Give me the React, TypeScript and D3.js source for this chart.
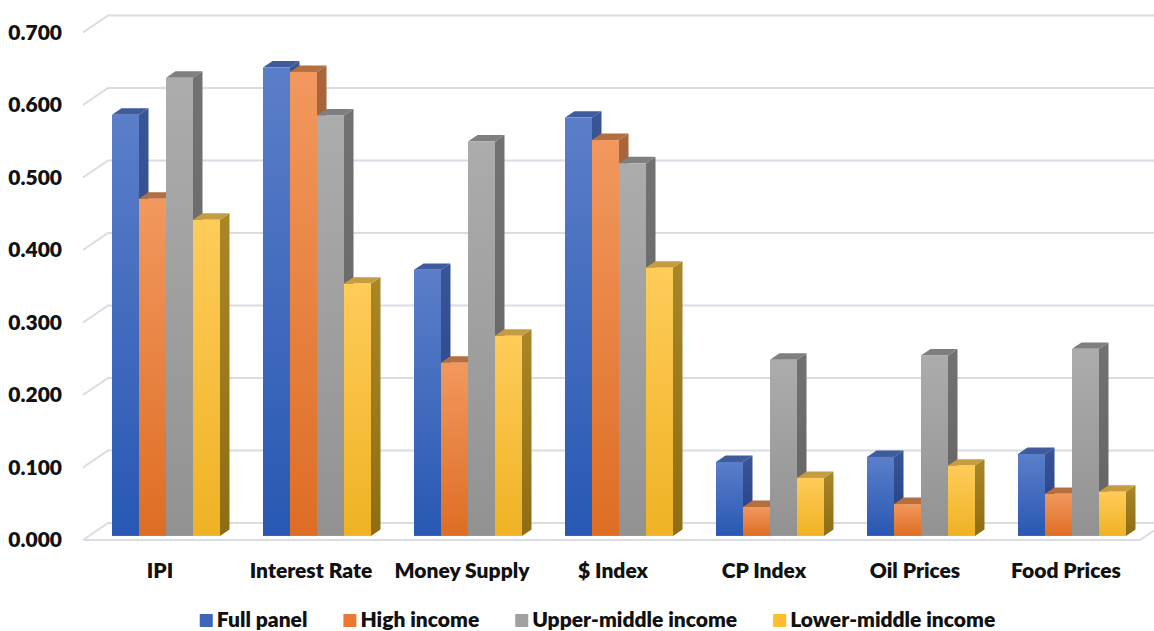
import React, { useEffect, useRef } from "react";
import * as d3 from "d3";

const W = 1154;
const H = 631;

const categories = ["IPI", "Interest Rate", "Money Supply", "$ Index", "CP Index", "Oil Prices", "Food Prices"];
const seriesNames = ["Full panel", "High income", "Upper-middle income", "Lower-middle income"];

const fullPanel = [0.581, 0.646, 0.367, 0.577, 0.102, 0.109, 0.113];
const highIncome = [0.465, 0.640, 0.239, 0.546, 0.040, 0.044, 0.058];
const upperMiddle = [0.632, 0.580, 0.544, 0.514, 0.243, 0.249, 0.258];
const lowerMiddle = [0.436, 0.348, 0.276, 0.370, 0.080, 0.097, 0.061];

const yTicks = [0, 0.1, 0.2, 0.3, 0.4, 0.5, 0.6, 0.7];

const seriesValues = [fullPanel, highIncome, upperMiddle, lowerMiddle];

// face shading per series: front gradient, side gradient, top face, legend swatch
const palette = [
  { front: ["#5b7ec9", "#2858b3"], side: ["#3a5596", "#213f82"], top: "#3f5b9d", swatch: "#3b66bb" },
  { front: ["#f2985e", "#de6d24"], side: ["#a9653b", "#985224"], top: "#b36f40", swatch: "#ea7a32" },
  { front: ["#acacac", "#929292"], side: ["#727272", "#626262"], top: "#7f7f7f", swatch: "#a0a0a0" },
  { front: ["#ffcc59", "#efb224"], side: ["#a98727", "#8e6d13"], top: "#c69c43", swatch: "#fcbe2c" },
];

const FONT = "Lato, 'Open Sans', sans-serif";
const FONT_SIZE = 21;
const FONT_WEIGHT = 800;

export default function App() {
  const ref = useRef<SVGSVGElement>(null);

  useEffect(() => {
    const svg = d3.select(ref.current);
    svg.selectAll("*").remove();

    // oblique projection: z = 0 at the front edge of the floor, z = 1 at the back wall
    const depthX = 25;
    const depthY = -17;
    const barZ = 0.24;
    const barDepth = 0.38;

    const x = d3
      .scaleBand<string>()
      .domain(categories)
      .range([84.5, 1141.5])
      .paddingInner(43 / 151)
      .paddingOuter(21.5 / 151);
    const xs = d3.scaleBand<string>().domain(seriesNames).range([0, x.bandwidth()]).padding(0);
    const y = d3.scaleLinear().domain([0, 0.7]).range([540, 540 - 0.7 * 725]);

    const proj = (px: number, v: number, z: number): [number, number] => [px + depthX * z, y(v) + depthY * z];

    const defs = svg.append("defs");
    palette.forEach((p, i) => {
      const gf = defs.append("linearGradient").attr("id", `front${i}`).attr("x1", 0).attr("y1", 0).attr("x2", 0).attr("y2", 1);
      gf.append("stop").attr("offset", "0%").attr("stop-color", p.front[0]);
      gf.append("stop").attr("offset", "100%").attr("stop-color", p.front[1]);
      const gs = defs.append("linearGradient").attr("id", `side${i}`).attr("x1", 0).attr("y1", 0).attr("x2", 0).attr("y2", 1);
      gs.append("stop").attr("offset", "0%").attr("stop-color", p.side[0]);
      gs.append("stop").attr("offset", "100%").attr("stop-color", p.side[1]);
    });

    const gridColor = "#dadce5";
    const leftX = 83;
    const grid = svg.append("g").attr("stroke", gridColor).attr("stroke-width", 2).attr("fill", "none");
    yTicks.forEach((t) => {
      const a = proj(leftX, t, 0);
      const b = proj(leftX, t, 1);
      const c = proj(W + 20, t, 1);
      grid.append("path").attr("d", `M${a[0]},${a[1]}L${b[0]},${b[1]}L${c[0]},${c[1]}`);
    });
    // floor front edge and right side
    const f0 = proj(leftX, 0, 0);
    const f1 = proj(1140, 0, 0);
    const f2 = proj(1140, 0, 1);
    grid.append("path").attr("d", `M${f0[0]},${f0[1]}L${f1[0]},${f1[1]}L${f2[0]},${f2[1]}`);

    // value axis labels
    svg
      .append("g")
      .selectAll("text")
      .data(yTicks)
      .join("text")
      .attr("x", 62)
      .attr("y", (d) => y(d))
      .attr("dy", "0.35em")
      .attr("text-anchor", "end")
      .attr("font-family", FONT)
      .attr("font-weight", FONT_WEIGHT)
      .attr("font-size", FONT_SIZE)
      .attr("fill", "#111")
      .text((d) => d3.format(".3f")(d));

    // bars
    const bars = svg.append("g");
    const w = xs.bandwidth();
    const dxb = depthX * barDepth;
    const dyb = depthY * barDepth;
    categories.forEach((cat, ci) => {
      seriesNames.forEach((s, si) => {
        const v = seriesValues[si][ci];
        const bx = (x(cat) as number) + (xs(s) as number) + depthX * barZ;
        const yT = y(v) + depthY * barZ;
        const yB = y(0) + depthY * barZ;
        const g = bars.append("g");
        g.append("polygon")
          .attr("points", [[bx + w, yT], [bx + w + dxb, yT + dyb], [bx + w + dxb, yB + dyb], [bx + w, yB]].map((p) => p.join(",")).join(" "))
          .attr("fill", `url(#side${si})`);
        g.append("polygon")
          .attr("points", [[bx, yT], [bx + dxb, yT + dyb], [bx + w + dxb, yT + dyb], [bx + w, yT]].map((p) => p.join(",")).join(" "))
          .attr("fill", palette[si].top);
        g.append("rect")
          .attr("x", bx)
          .attr("y", yT)
          .attr("width", w)
          .attr("height", yB - yT)
          .attr("fill", `url(#front${si})`);
      });
    });

    // category labels
    svg
      .append("g")
      .selectAll("text")
      .data(categories)
      .join("text")
      .attr("x", (d) => (x(d) as number) + x.bandwidth() / 2)
      .attr("y", 578)
      .attr("text-anchor", "middle")
      .attr("font-family", FONT)
      .attr("font-weight", FONT_WEIGHT)
      .attr("font-size", FONT_SIZE)
      .attr("fill", "#111")
      .text((d) => d);

    // legend
    const legend = svg.append("g");
    const items = legend
      .selectAll("g")
      .data(seriesNames)
      .join("g");
    items
      .append("rect")
      .attr("width", 13)
      .attr("height", 13)
      .attr("y", 614)
      .attr("fill", (_, i) => palette[i].swatch);
    items
      .append("text")
      .attr("x", 17)
      .attr("y", 627)
      .attr("font-family", FONT)
      .attr("font-weight", FONT_WEIGHT)
      .attr("font-size", FONT_SIZE)
      .attr("fill", "#111")
      .text((d) => d);
    let offset = 0;
    const widths: number[] = [];
    items.each(function () {
      const t = d3.select(this).select("text").node() as SVGTextElement;
      widths.push(17 + t.getComputedTextLength());
    });
    const gap = 36;
    const total = d3.sum(widths) + gap * (widths.length - 1);
    const start = 597.5 - total / 2;
    items.attr("transform", (_, i) => {
      const tx = start + offset;
      offset += widths[i] + gap;
      return `translate(${tx},0)`;
    });
  }, []);

  return (
    <svg
      ref={ref}
      width={W}
      height={H}
      viewBox={`0 0 ${W} ${H}`}
      style={{ position: "absolute", left: 0, top: 0, background: "#fff" }}
    />
  );
}
